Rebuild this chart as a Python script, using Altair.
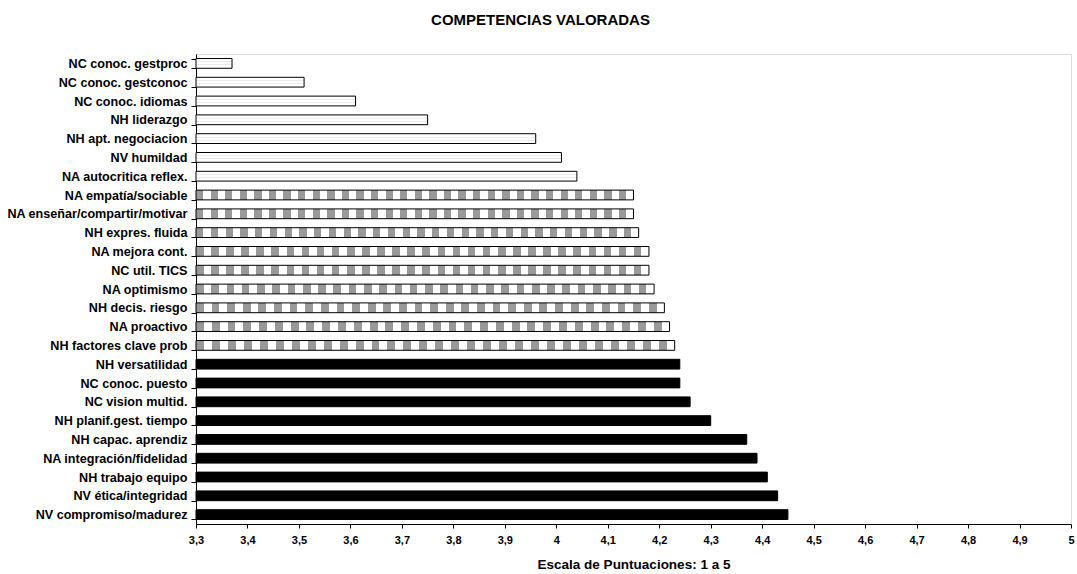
import altair as alt
import pandas as pd

categories = [
    "NC conoc. gestproc", "NC conoc. gestconoc", "NC conoc. idiomas", "NH liderazgo",
    "NH apt. negociacion", "NV humildad", "NA autocritica reflex.", "NA empatía/sociable",
    "NA enseñar/compartir/motivar", "NH expres. fluida", "NA mejora cont.", "NC util. TICS",
    "NA optimismo", "NH decis. riesgo", "NA proactivo", "NH factores clave prob",
    "NH versatilidad", "NC conoc. puesto", "NC vision multid.", "NH planif.gest. tiempo",
    "NH capac. aprendiz", "NA integración/fidelidad", "NH trabajo equipo",
    "NV ética/integridad", "NV compromiso/madurez",
]
values = [3.37, 3.51, 3.61, 3.75, 3.96, 4.01, 4.04, 4.15, 4.15, 4.16, 4.18, 4.18,
          4.19, 4.21, 4.22, 4.23, 4.24, 4.24, 4.26, 4.30, 4.37, 4.39, 4.41, 4.43, 4.45]
groups = ["dots"] * 7 + ["checks"] * 9 + ["solid"] * 9
x_ticks = [3.3, 3.4, 3.5, 3.6, 3.7, 3.8, 3.9, 4.0, 4.1, 4.2, 4.3, 4.4, 4.5, 4.6, 4.7, 4.8, 4.9, 5.0]
base_value = 3.3

df = pd.DataFrame({"cat": categories, "val": values, "grp": groups})
df["base"] = base_value

FONT = "Liberation Sans"

def stripes(c1, c2, n):
    stops = []
    for i in range(n):
        a = i / n
        b = (i + 0.5) / n
        c = (i + 1) / n
        stops += [alt.GradientStop(offset=a, color=c1), alt.GradientStop(offset=b, color=c1),
                  alt.GradientStop(offset=b, color=c2), alt.GradientStop(offset=c, color=c2)]
    return stops

check_fill = alt.LinearGradient(gradient="linear", x1=0, y1=0, x2=1, y2=0,
                                stops=stripes("#999999", "#ffffff", 30))
dot_fill = alt.LinearGradient(gradient="linear", x1=0, y1=0, x2=0, y2=1, stops=[
    alt.GradientStop(offset=0, color="#ffffff"),
    alt.GradientStop(offset=0.3, color="#ffffff"),
    alt.GradientStop(offset=0.3, color="#ebebeb"),
    alt.GradientStop(offset=0.4, color="#ebebeb"),
    alt.GradientStop(offset=0.4, color="#ffffff"),
    alt.GradientStop(offset=0.6, color="#ffffff"),
    alt.GradientStop(offset=0.6, color="#ebebeb"),
    alt.GradientStop(offset=0.7, color="#ebebeb"),
    alt.GradientStop(offset=0.7, color="#ffffff"),
    alt.GradientStop(offset=1, color="#ffffff"),
])

label_expr = "replace(format(datum.value, '.1~f'), '.', ',')"

x_enc = alt.X("val:Q",
              scale=alt.Scale(domain=[3.3, 5.0], zero=False, nice=False),
              axis=alt.Axis(values=x_ticks, labelExpr=label_expr, grid=False,
                            title="Escala de Puntuaciones: 1 a 5", titleFontSize=13.5,
                            titleFontWeight="bold", titleFont=FONT, titlePadding=12,
                            labelFont=FONT, labelFontSize=11, labelFontWeight="bold",
                            labelColor="#000", domainColor="#000", tickColor="#000",
                            tickSize=4, labelPadding=6, labelFlush=False, titleColor="#000"))
y_enc = alt.Y("cat:N", sort=categories,
              scale=alt.Scale(paddingInner=0.48, paddingOuter=0.24),
              axis=alt.Axis(title=None, labelFont=FONT, labelFontSize=12.6, labelLimit=400,
                            labelFontWeight="bold", labelColor="#000", domainColor="#000",
                            tickColor="#000", tickSize=5, tickBand="extent", labelPadding=4))

base = alt.Chart(df).encode(y=y_enc, x=x_enc, x2="base:Q")

solid = base.transform_filter("datum.grp == 'solid'").mark_bar(fill="#000000", stroke="#000", strokeWidth=1)
checks = base.transform_filter("datum.grp == 'checks'").mark_bar(fill=check_fill, stroke="#000", strokeWidth=1)
dots = base.transform_filter("datum.grp == 'dots'").mark_bar(fill=dot_fill, stroke="#000", strokeWidth=1)

chart = alt.layer(solid, checks, dots).properties(
    width=875, height=470,
    title=alt.TitleParams("COMPETENCIAS VALORADAS", font=FONT, fontSize=15,
                          fontWeight="bold", color="#000", offset=20, dx=-93),
    autosize=alt.AutoSizeParams(type="none"),
    padding={"left": 196, "top": 54, "right": 6, "bottom": 50},
).configure_view(strokeWidth=0).configure(background="#ffffff")

chart.save("out.html", embed_options={"renderer": "svg", "actions": False})
